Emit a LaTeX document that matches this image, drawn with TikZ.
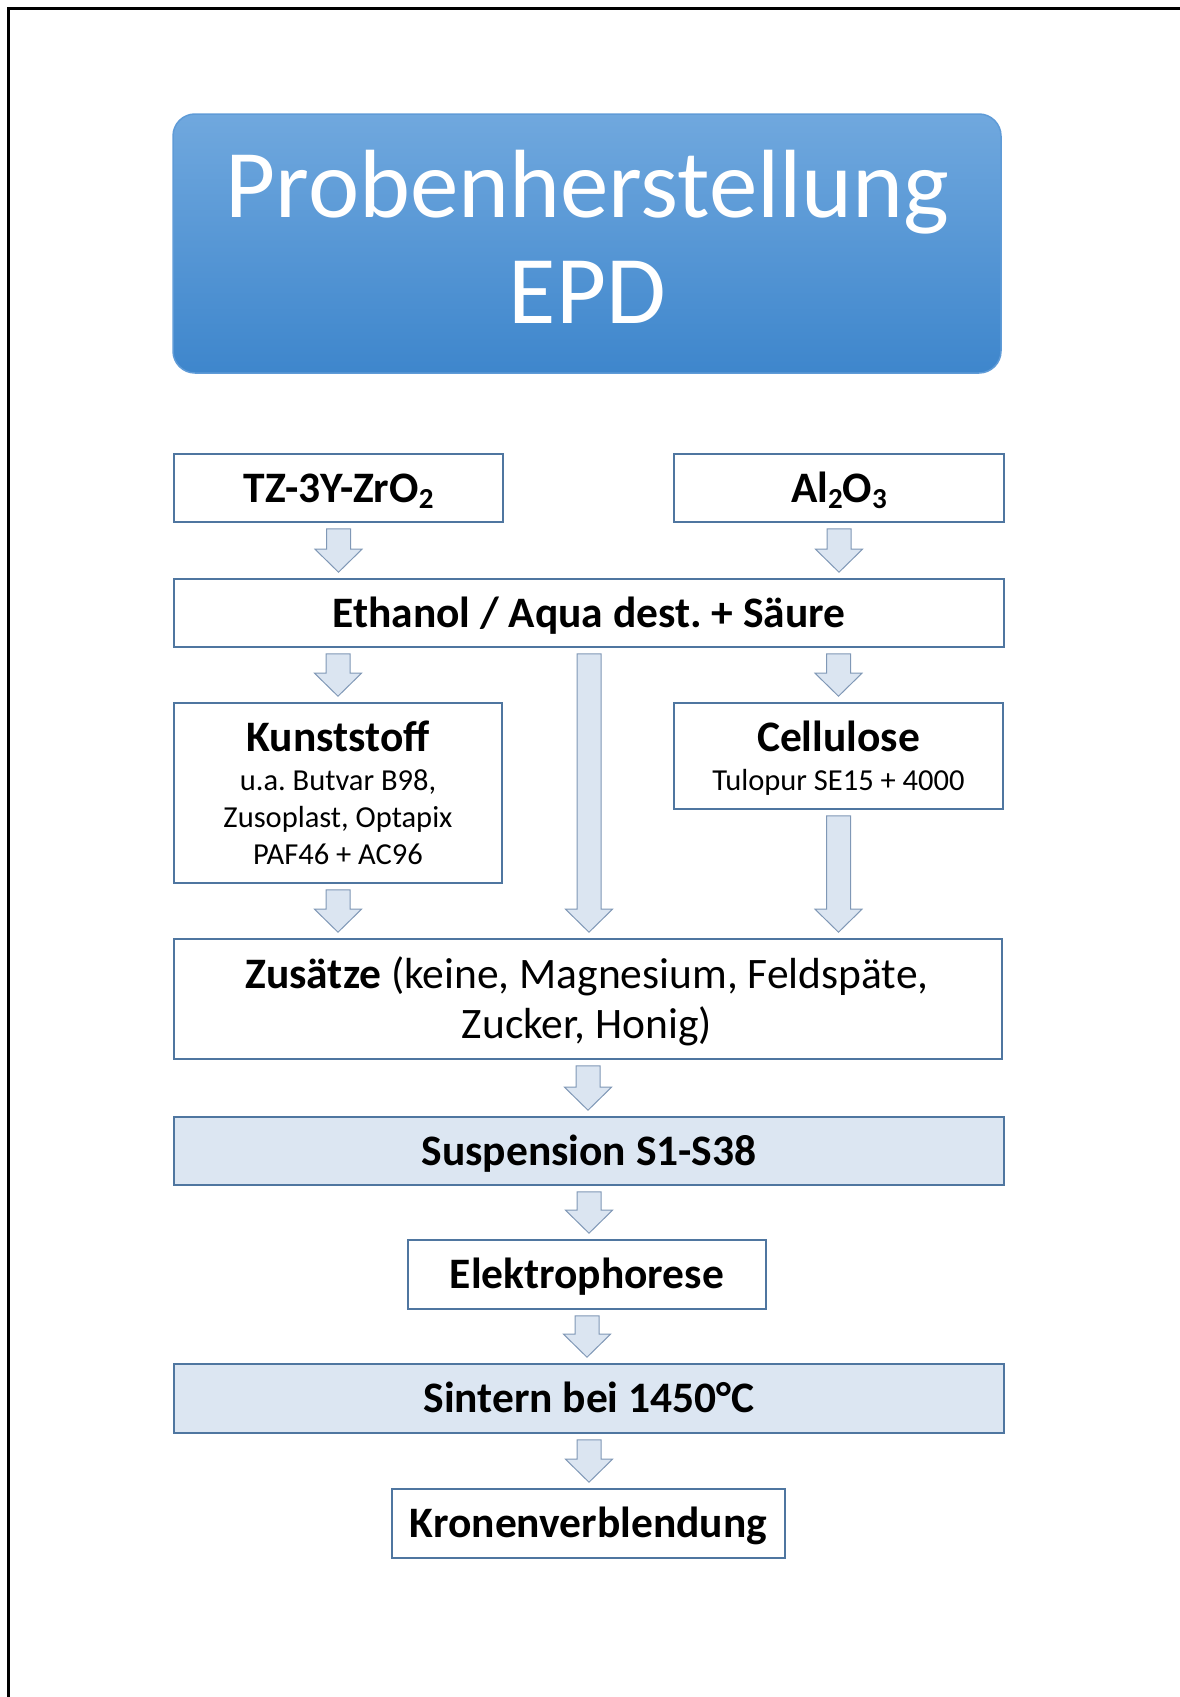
\documentclass[tikz,border=0pt]{standalone}
\usepackage{fontspec}
\setmainfont{Carlito}
\usetikzlibrary{calc}
\frenchspacing
\definecolor{boxline}{RGB}{79,118,160}
\definecolor{lightfill}{RGB}{220,230,242}
\definecolor{arrowfill}{RGB}{219,229,241}
\definecolor{arrowline}{RGB}{128,152,182}
\definecolor{titletop}{RGB}{112,168,222}
\definecolor{titlebot}{RGB}{62,134,204}
\definecolor{titleline}{RGB}{95,155,215}
\newcommand\bigbold{\fontsize{43.5}{52}\selectfont\bfseries}
\newcommand\bigreg{\fontsize{43.5}{52}\selectfont}
\newcommand\smalltext{\fontsize{30.5}{37}\selectfont}
\newcommand\chemsub[1]{\raisebox{-6pt}{\fontsize{29}{29}\selectfont #1}}
\newcommand\blockarr[2]{%
  \draw[blockarrow] let \p1=#1, \p2=#2 in
    (\x1-12pt,\y1-6pt) -- (\x1+12pt,\y1-6pt) -- (\x1+12pt,\y2+29pt)
    -- (\x1+23.5pt,\y2+29pt) -- (\x1,\y2+6pt) -- (\x1-23.5pt,\y2+29pt)
    -- (\x1-12pt,\y2+29pt) -- cycle;}
\begin{document}
\begin{tikzpicture}[x=1pt,y=-1pt,
  flowbox/.style={draw=boxline, line width=1.6pt, fill=white, inner sep=0pt},
  filledbox/.style={flowbox, fill=lightfill},
  boxlabel/.style={font=\bigbold, text height=28pt, text depth=0pt},
  titlebox/.style={draw=titleline, line width=1.5pt, rounded corners=22pt,
    top color=titletop, bottom color=titlebot},
  titletext/.style={text=white, font=\fontsize{97}{106}\selectfont, inner sep=0pt},
  blockarrow/.style={draw=arrowline, fill=arrowfill, line width=1pt, line join=miter}]
\useasboundingbox (0,0) rectangle (1180,1697);
\draw[line width=2.5pt] (8.5,1697) -- (8.5,8.5) -- (1180,8.5);

% title
\node[titlebox, minimum width=828pt, minimum height=259pt] (title) at (587,243.5) {};
\node[titletext, anchor=base] (title1) at (587.5,217) {Probenherstellung};
\node[titletext, anchor=base] (title2) at (587.5,323) {EPD};

% boxes
\node[flowbox, boxlabel, minimum width=329pt, minimum height=68pt] (tz) at (338.5,488) {TZ-3Y-ZrO\chemsub{2}};
\node[flowbox, boxlabel, minimum width=330pt, minimum height=68pt] (al) at (839,488) {Al\chemsub{2}O\chemsub{3}};
\node[flowbox, boxlabel, minimum width=830pt, minimum height=68pt] (eth) at (589,613) {Ethanol / Aqua dest. + Säure};

\node[flowbox, minimum width=328pt, minimum height=180pt] (kun) at (338,793) {};
\node[font=\bigbold, anchor=base, inner sep=0pt] (kunT) at (338,751) {Kunststoff};
\node[font=\smalltext, anchor=base, inner sep=0pt] (kunS1) at (338,790) {u.a. Butvar B98,};
\node[font=\smalltext, anchor=base, inner sep=0pt] (kunS2) at (338,827) {Zusoplast, Optapix};
\node[font=\smalltext, anchor=base, inner sep=0pt] (kunS3) at (338,864) {PAF46 + AC96};

\node[flowbox, minimum width=329pt, minimum height=106pt] (cel) at (838.5,756) {};
\node[font=\bigbold, anchor=base, inner sep=0pt] (celT) at (838.5,751) {Cellulose};
\node[font=\smalltext, anchor=base, inner sep=0pt] (celS) at (838.5,790) {Tulopur SE15 + 4000};

\node[flowbox, minimum width=828pt, minimum height=120pt] (zus) at (588,999) {};
\node[font=\bigreg, anchor=base, inner sep=0pt] (zusT1) at (587,988) {\textbf{Zusätze} (keine, Magnesium, Feldspäte,};
\node[font=\bigreg, anchor=base, inner sep=0pt] (zusT2) at (587,1038) {Zucker, Honig)};

\node[filledbox, boxlabel, minimum width=830pt, minimum height=68pt] (sus) at (589,1151) {Suspension S1-S38};
\node[flowbox, boxlabel, minimum width=358pt, minimum height=69pt] (ele) at (587,1274.5) {Elektrophorese};
\node[filledbox, boxlabel, minimum width=830pt, minimum height=69pt] (sin) at (589,1398.5) {Sintern bei 1450°C};
\node[flowbox, boxlabel, minimum width=393pt, minimum height=69pt] (kro) at (588.5,1523.5) {Kronenverblendung};

% arrows
\blockarr{(tz.south)}{(tz.south |- eth.north)}
\blockarr{(al.south)}{(al.south |- eth.north)}
\blockarr{(eth.south -| kun.north)}{(kun.north)}
\blockarr{(eth.south -| cel.north)}{(cel.north)}
\blockarr{(eth.south)}{(eth.south |- zus.north)}
\blockarr{(kun.south)}{(kun.south |- zus.north)}
\blockarr{(cel.south)}{(cel.south |- zus.north)}
\blockarr{(zus.south)}{(zus.south |- sus.north)}
\blockarr{(sus.south)}{(sus.south |- ele.north)}
\blockarr{(ele.south)}{(ele.south |- sin.north)}
\blockarr{(sin.south)}{(sin.south |- kro.north)}
\end{tikzpicture}
\end{document}
